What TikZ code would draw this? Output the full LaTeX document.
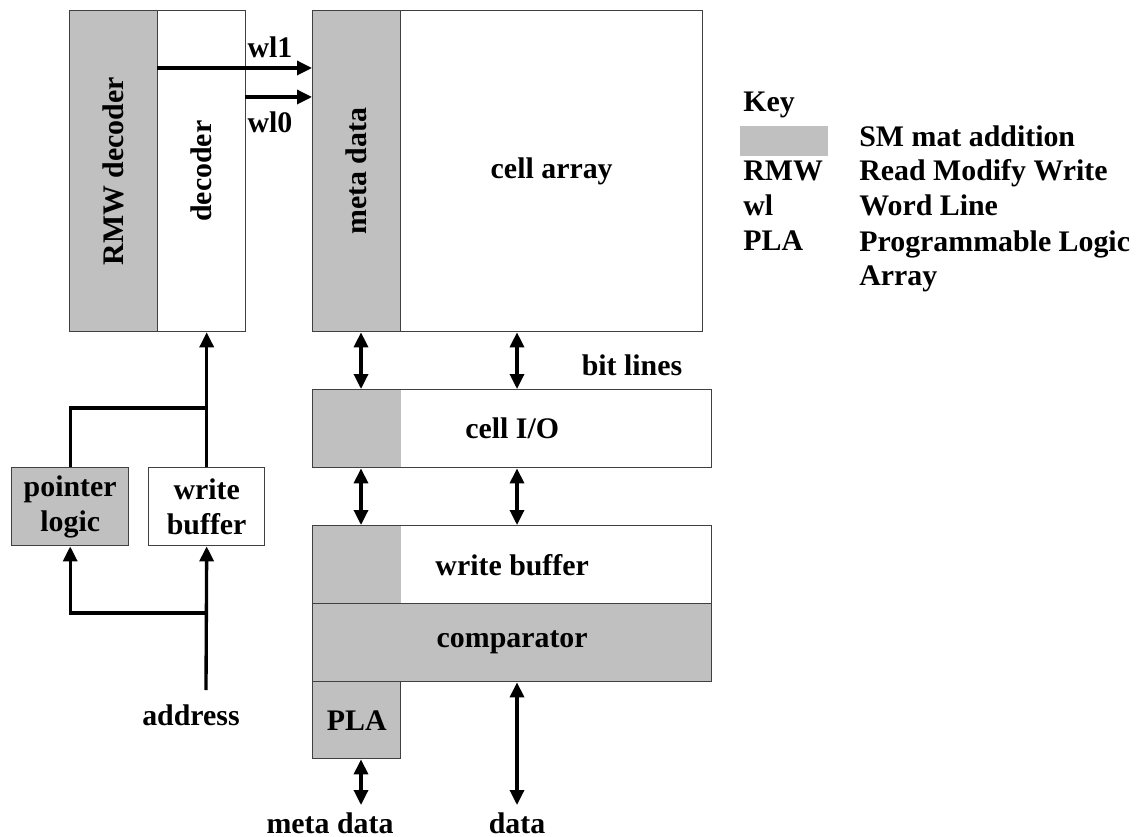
\documentclass[tikz,border=0pt]{standalone}
\usepackage{fontspec}
\setmainfont{Liberation Serif}
\definecolor{MatGray}{HTML}{C0C0C0}
\definecolor{EdgeGray}{HTML}{404040}
\usetikzlibrary{positioning,arrows.meta,calc}

\tikzset{
  blk/.style={draw=EdgeGray, line width=0.8pt, anchor=north west, inner sep=0pt},
  smfill/.style={fill=MatGray},
  smleft/.style={path picture={\fill[MatGray] (path picture bounding box.north west)
      rectangle ([xshift=1.76cm]path picture bounding box.south west);}},
  wire/.style={line width=1.9pt},
  arr/.style={wire, -{Triangle[length=0.3cm,width=0.28cm]}},
  biarr/.style={wire, {Triangle[length=0.3cm,width=0.28cm]}-{Triangle[length=0.3cm,width=0.28cm]}},
  legend/.style={anchor=base west, inner sep=0pt},
}

\begin{document}
\begin{tikzpicture}[x=0.02cm, y=-0.02cm, font=\fontsize{17}{19.8}\selectfont\bfseries]
\useasboundingbox (0,0) rectangle (1145,837);

% decoders
\node[blk, smfill, minimum width=1.76cm, minimum height=6.42cm] (rmw) at (69,10) {};
\node[blk, minimum width=1.76cm, minimum height=6.42cm] (dec) at (157,10) {};
\node[rotate=90] (rmwtxt) at (rmw.center) {RMW decoder};
\node[rotate=90] (dectxt) at (dec.center) {decoder};

% mat
\node[blk, smfill, minimum width=1.76cm, minimum height=6.42cm] (meta) at (312,10) {};
\node[rotate=90] (metatxt) at (meta.center) {meta data};
\node[blk, minimum width=6.04cm, minimum height=6.42cm] (cells) at (400,10) {};
\node (cellstxt) at (cells.center) {cell array};
\node[blk, smleft, minimum width=7.98cm, minimum height=1.56cm] (cio) at (312,389) {cell I/O};
\node[blk, smleft, minimum width=7.98cm, minimum height=1.56cm] (wbuf) at (312,525) {write buffer};
\node[blk, smfill, minimum width=7.98cm, minimum height=1.56cm] (cmp) at (312,603) {comparator};
\node[blk, smfill, minimum width=1.76cm, minimum height=1.54cm] (pla) at (312,681) {PLA};

% address path
\node[blk, smfill, minimum width=2.34cm, minimum height=1.56cm, align=center] (ptr) at (11,467) {pointer\\logic};
\node[blk, minimum width=2.32cm, minimum height=1.56cm, align=center] (wbl) at (148,467) {write\\buffer};
\node (addr) at (191,715) {address};

% word lines
\coordinate (wl1a) at (157,68);
\coordinate (wl0a) at (245,97);
\draw[arr] (wl1a) -- (meta.west |- wl1a);
\draw[arr] (wl0a) -- (meta.west |- wl0a);
\node (wlone) at (270,47) {wl1};
\node (wlzero) at (270,122) {wl0};

\coordinate (adtop) at (206,690);
\draw[arr] (adtop) -- (wbl.south);
\draw[arr] (adtop |- 0,613) -| (ptr.south);
\draw[arr] (wbl.north) -- (wbl.north |- dec.south);
\draw[wire] (wbl.north |- 0,408) -| (ptr.north);

% bit lines
\coordinate (bl0) at (361,0);
\coordinate (bl1) at (517,0);
\coordinate (botend) at (0,805);
\draw[biarr] (bl0 |- meta.south) -- (bl0 |- cio.north);
\draw[biarr] (bl1 |- cells.south) -- (bl1 |- cio.north);
\draw[biarr] (bl0 |- cio.south) -- (bl0 |- wbuf.north);
\draw[biarr] (bl1 |- cio.south) -- (bl1 |- wbuf.north);
\draw[biarr] (bl0 |- pla.south) -- (bl0 |- botend);
\draw[biarr] (bl1 |- cmp.south) -- (bl1 |- botend);
\node (bitlines) at (632,365) {bit lines};
\node (mdlab) at (330,823) {meta data};
\node (datalab) at (517,823) {data};

% key
\node[legend] (key) at (743,112) {Key};
\node[smfill, anchor=north west, inner sep=0pt, minimum width=1.76cm, minimum height=0.6cm] (keybox) at (740,126) {};
\node[legend] (smtxt) at (859,147) {SM mat addition};
\node[legend] (rmwkey) at (743,181) {RMW};
\node[legend] (rmwtxt2) at (859,181) {Read Modify Write};
\node[legend] (wlkey) at (743,216) {wl};
\node[legend] (wltxt) at (859,216) {Word Line};
\node[legend] (plakey) at (743,251) {PLA};
\node[legend, align=left] (platxt) at (859,286) {Programmable Logic\\Array};
\end{tikzpicture}
\end{document}
